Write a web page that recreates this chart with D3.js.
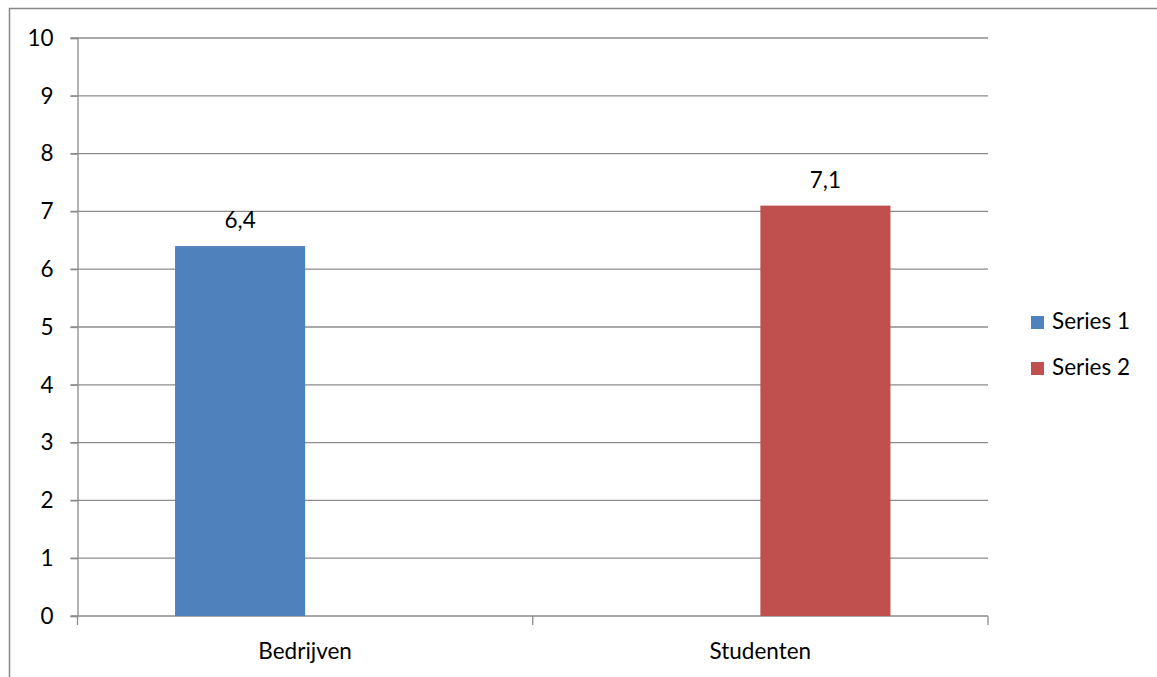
<!DOCTYPE html>
<html>
<head>
<meta charset="utf-8">
<script src="https://cdn.jsdelivr.net/npm/d3@7"></script>
<style>
  body { margin: 0; background: #fff; }
  text { font-family: Lato, "Liberation Sans", sans-serif; fill: #000; }
</style>
</head>
<body>
<script>
const categories = ["Bedrijven", "Studenten"];
const seriesNames = ["Series 1", "Series 2"];
const series1 = [6.4, null];
const series2 = [null, 7.1];
const yTicks = [0, 1, 2, 3, 4, 5, 6, 7, 8, 9, 10];
const colors = ["#4F81BD", "#C0504D"];

const width = 1157, height = 677;
const plot = {left: 77.5, right: 988, top: 38, bottom: 616};
const fontSize = 22.5;

const svg = d3.select("body").append("svg")
  .attr("width", width)
  .attr("height", height);

// chart frame
svg.append("path")
  .attr("d", `M9.5,${height} V8.5 H${width}`)
  .attr("fill", "none")
  .attr("stroke", "#878787")
  .attr("stroke-width", 1.5);

const x = d3.scaleBand()
  .domain(categories)
  .range([plot.left, plot.right]);

const x1 = d3.scaleBand()
  .domain(seriesNames)
  .range([0, x.bandwidth()])
  .paddingOuter(0.75);

const y = d3.scaleLinear()
  .domain([0, 10])
  .range([plot.bottom, plot.top]);

// grid
svg.append("g")
  .selectAll("line")
  .data(yTicks.slice(1))
  .join("line")
  .attr("x1", plot.left - 7)
  .attr("x2", plot.right)
  .attr("y1", d => y(d))
  .attr("y2", d => y(d))
  .attr("stroke", "#8c8c8c")
  .attr("stroke-width", 1.3);

// y axis
const yAxis = svg.append("g")
  .attr("transform", `translate(${plot.left},0)`)
  .call(d3.axisLeft(y).tickValues(yTicks).tickSize(7).tickPadding(17));
yAxis.select(".domain").attr("stroke", "#8c8c8c").attr("stroke-width", 1.3);
yAxis.selectAll(".tick line").attr("stroke", "#8c8c8c").attr("stroke-width", 1.3);
yAxis.selectAll("text")
  .attr("font-size", fontSize)
  .attr("font-family", "Lato, sans-serif")
  .attr("fill", "#000");

// x axis
const ticksX = [plot.left, plot.left + x.bandwidth(), plot.right];
svg.append("line")
  .attr("x1", plot.left - 7).attr("x2", plot.right)
  .attr("y1", plot.bottom).attr("y2", plot.bottom)
  .attr("stroke", "#8c8c8c").attr("stroke-width", 1.3);
svg.append("g").selectAll("line")
  .data(ticksX)
  .join("line")
  .attr("x1", d => d).attr("x2", d => d)
  .attr("y1", plot.bottom).attr("y2", plot.bottom + 9)
  .attr("stroke", "#8c8c8c").attr("stroke-width", 1.3);

svg.append("g").selectAll("text")
  .data(categories)
  .join("text")
  .attr("x", d => x(d) + x.bandwidth() / 2)
  .attr("y", plot.bottom + 43)
  .attr("text-anchor", "middle")
  .attr("font-size", fontSize)
  .text(d => d);

// bars
const rows = categories.map((c, i) => ({cat: c, values: [series1[i], series2[i]]}));
const groups = svg.append("g").selectAll("g")
  .data(rows)
  .join("g")
  .attr("transform", d => `translate(${x(d.cat)},0)`);

const cells = groups.selectAll("g")
  .data(d => d.values.map((v, j) => ({name: seriesNames[j], v, j})).filter(e => e.v != null))
  .join("g");

cells.append("rect")
  .attr("x", d => x1(d.name))
  .attr("width", x1.bandwidth())
  .attr("y", d => y(d.v))
  .attr("height", d => y(0) - y(d.v))
  .attr("fill", d => colors[d.j]);

cells.append("text")
  .attr("x", d => x1(d.name) + x1.bandwidth() / 2)
  .attr("y", d => y(d.v) - 18)
  .attr("text-anchor", "middle")
  .attr("font-size", fontSize)
  .text(d => d3.format(".1f")(d.v).replace(".", ","));

// legend
const legend = svg.append("g").selectAll("g")
  .data(seriesNames)
  .join("g")
  .attr("transform", (d, i) => `translate(1031,${316 + i * 46})`);
legend.append("rect")
  .attr("width", 13).attr("height", 13)
  .attr("fill", (d, i) => colors[i]);
legend.append("text")
  .attr("x", 21).attr("y", 13)
  .attr("font-size", fontSize)
  .text(d => d);
</script>
</body>
</html>
